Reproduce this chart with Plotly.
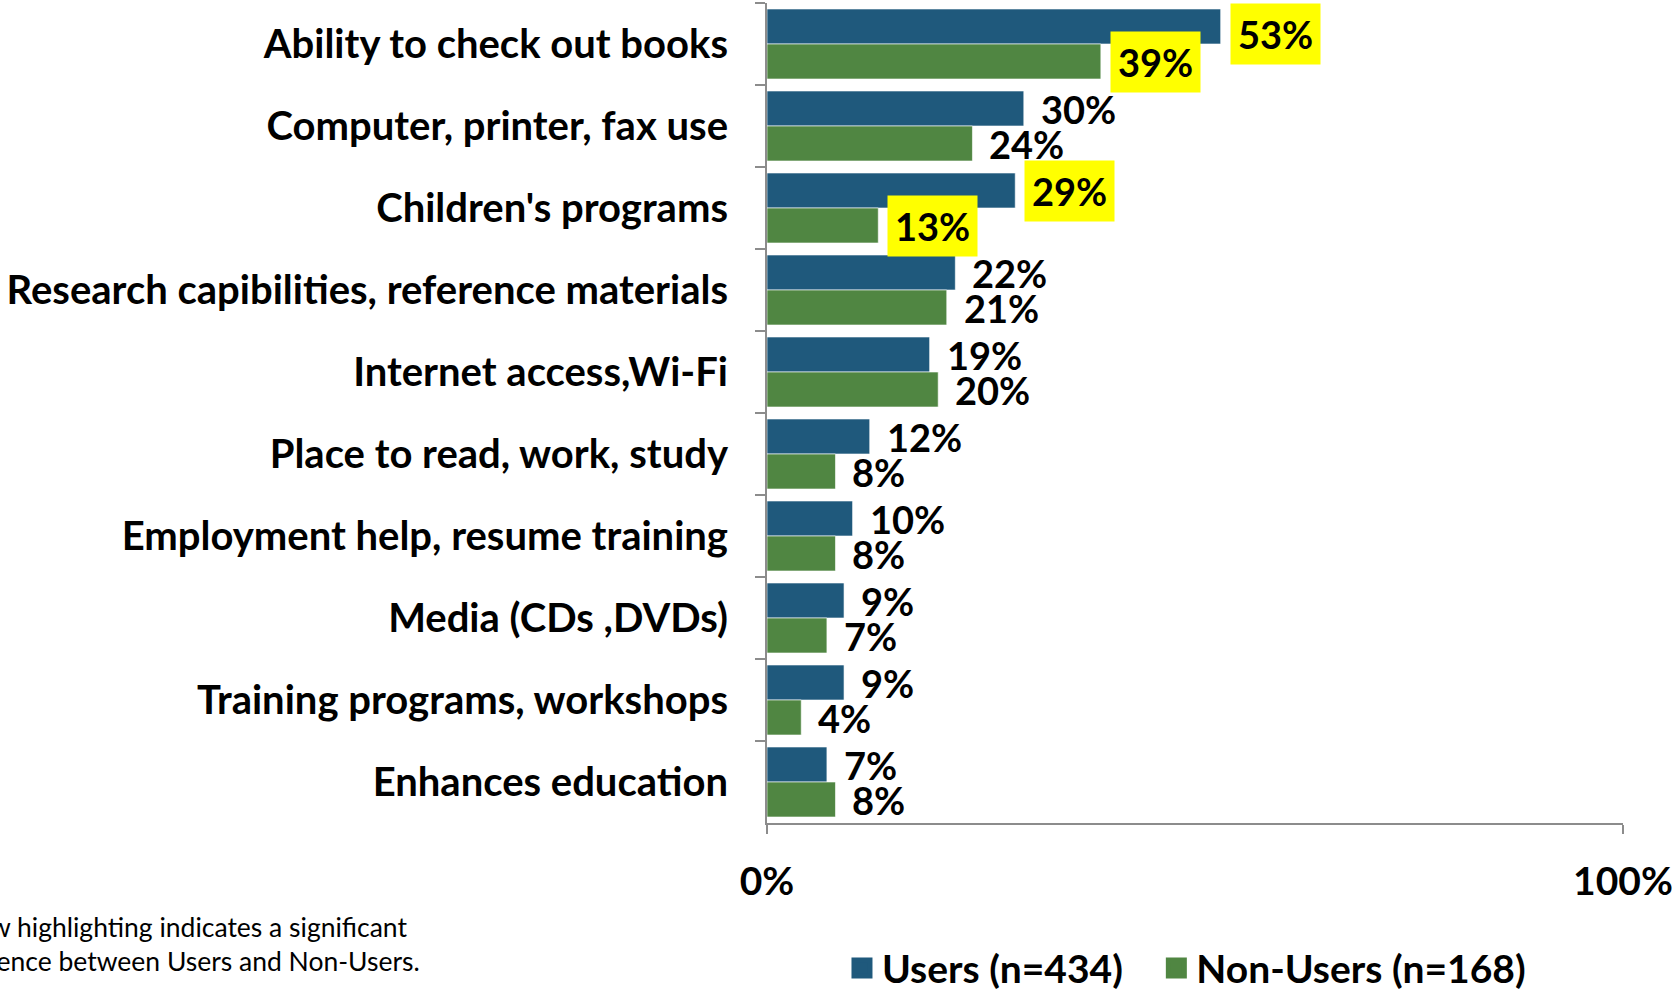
import plotly.graph_objects as go

# Library services valued, by respondent group (percent)
categories = [
    "Ability to check out books",
    "Computer, printer, fax use",
    "Children's programs",
    "Research capibilities, reference materials",
    "Internet access,Wi-Fi",
    "Place to read, work, study",
    "Employment help, resume training",
    "Media (CDs ,DVDs)",
    "Training programs, workshops",
    "Enhances education",
]
users = [53, 30, 29, 22, 19, 12, 10, 9, 9, 7]
non_users = [39, 24, 13, 21, 20, 8, 8, 7, 4, 8]
# significant difference between groups -> yellow highlight
significant = [True, False, True, False, False, False, False, False, False, False]

x_tickvals = [0, 100]
x_ticktext = ["0%", "100%"]

BLUE = "#1F597C"
GREEN = "#508642"
HIGHLIGHT = "#FFFF00"
AXIS = "#8C8C8C"
FONT = "Lato"
BIG = 38
PAD = 7

fig = go.Figure()

fig.add_trace(go.Bar(
    y=categories, x=users, orientation="h", name="Users (n=434)",
    marker=dict(color=BLUE, line=dict(color="rgba(255,255,255,0.6)", width=1)),
    showlegend=False, hoverinfo="skip",
))
fig.add_trace(go.Bar(
    y=categories, x=non_users, orientation="h", name="Non-Users (n=168)",
    marker=dict(color=GREEN, line=dict(color="rgba(255,255,255,0.6)", width=1)),
    showlegend=False, hoverinfo="skip",
))

# legend entries with larger square swatches (trailing no-break spaces widen the gap)
for name, col in [("Users (n=434)\u00a0\u00a0\u00a0", BLUE), ("Non-Users (n=168)", GREEN)]:
    fig.add_trace(go.Scatter(
        x=[None], y=[None], mode="markers", name=name, showlegend=True,
        marker=dict(symbol="square", size=16, color=col, line=dict(color=col, width=5)),
    ))

annotations = []
for series, shift, is_users in [(users, 17.5, True), (non_users, -17.5, False)]:
    for i, (cat, val, sig) in enumerate(zip(categories, series, significant)):
        ann = dict(
            x=val, y=cat, xref="x", yref="y",
            text=f"{val}%", showarrow=False,
            xanchor="left", yanchor="middle",
            xshift=9 if sig else 9 + PAD, yshift=shift,
            bgcolor=HIGHLIGHT if sig else "rgba(0,0,0,0)",
            borderpad=PAD if sig else 0,
            font=dict(family=FONT, size=BIG, color="black", weight="bold"),
        )
        if is_users and i == 0:
            # keep the topmost label box inside the plot area
            ann.update(y=1, yref="paper", yanchor="top", yshift=0)
        annotations.append(ann)

annotations.append(dict(
    x=-0.403, y=-0.147, xref="paper", yref="paper",
    xanchor="right", yanchor="middle", align="left", showarrow=False,
    text="Yellow highlighting indicates a significant<br>difference between Users and Non-Users.",
    font=dict(family=FONT, size=26.5, color="black"),
))

fig.update_layout(
    width=1672, height=990,
    margin=dict(l=767, r=49, t=3, b=167, autoexpand=False),
    paper_bgcolor="white", plot_bgcolor="white",
    barmode="group", bargap=0.146, bargroupgap=0,
    font=dict(family=FONT, color="black"),
    annotations=annotations,
    legend=dict(
        orientation="h", x=0.0876, xanchor="left", y=-0.177, yanchor="middle",
        font=dict(family=FONT, size=39, color="black", weight="bold"),
        bgcolor="rgba(0,0,0,0)",
    ),
    xaxis=dict(
        range=[0, 100], tickvals=x_tickvals, ticktext=x_ticktext,
        showgrid=False, zeroline=False,
        showline=True, linecolor=AXIS, linewidth=2,
        ticks="outside", ticklen=9, tickwidth=2, tickcolor=AXIS,
        tickfont=dict(family=FONT, size=39, color="black", weight="bold"),
        ticklabelstandoff=14, ticklabeloverflow="allow",
    ),
    yaxis=dict(
        type="category", categoryorder="array", categoryarray=categories,
        autorange=False, range=[len(categories) - 0.5, -0.5],
        showgrid=False, zeroline=False,
        showline=True, linecolor=AXIS, linewidth=2,
        ticks="outside", ticklen=10, tickwidth=2, tickcolor=AXIS,
        tickson="boundaries",
        tickfont=dict(family=FONT, size=40, color="black", weight="bold"),
        ticklabelstandoff=29,
    ),
)

fig.write_html("out.html")
